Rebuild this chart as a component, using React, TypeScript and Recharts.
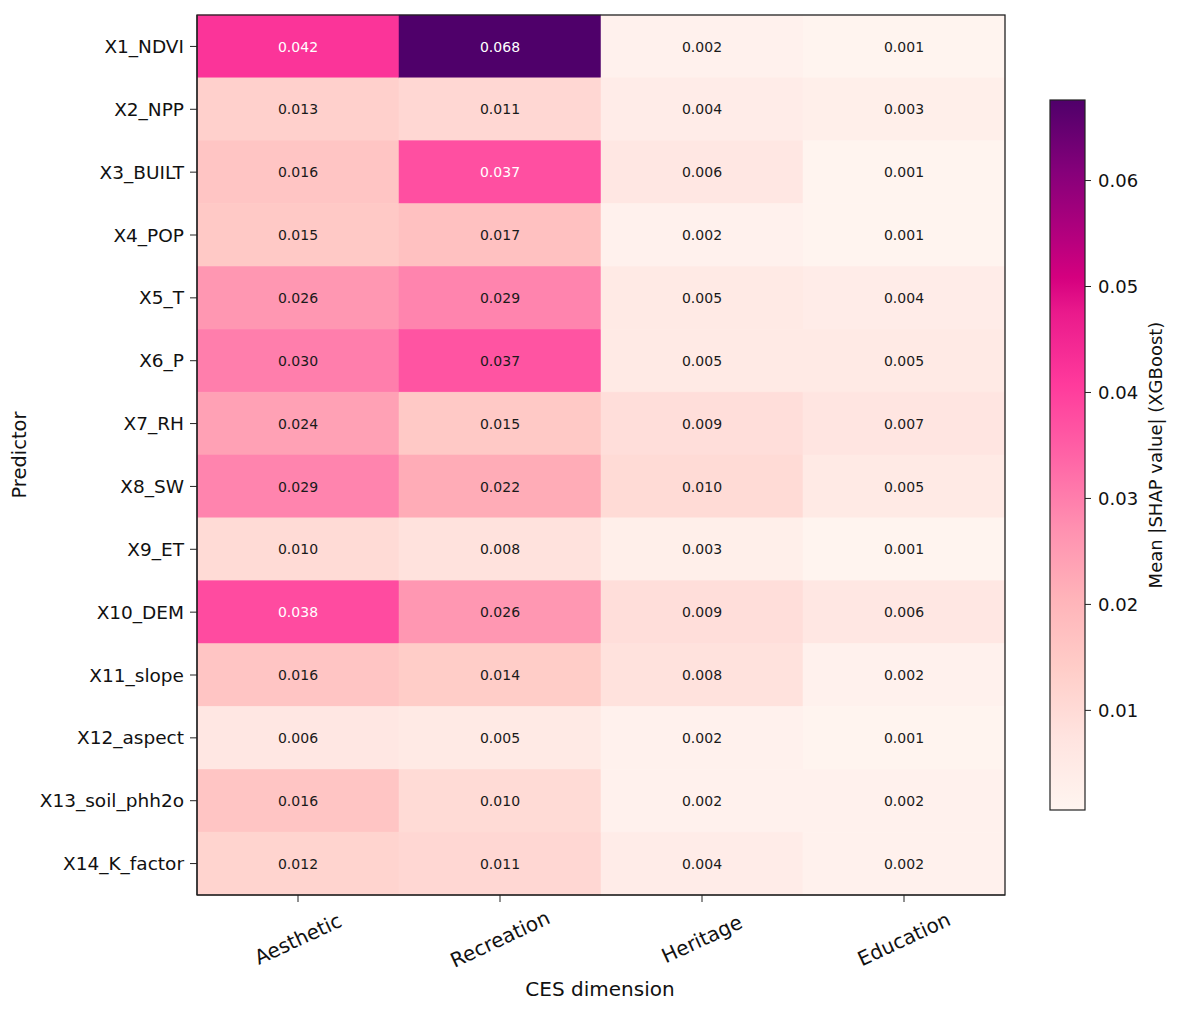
import { BarChart, Bar, XAxis, YAxis } from 'recharts'

const predictors = [
  'X1_NDVI', 'X2_NPP', 'X3_BUILT', 'X4_POP', 'X5_T', 'X6_P', 'X7_RH',
  'X8_SW', 'X9_ET', 'X10_DEM', 'X11_slope', 'X12_aspect', 'X13_soil_phh2o', 'X14_K_factor',
]
const dimensions = ['Aesthetic', 'Recreation', 'Heritage', 'Education']

// mean |SHAP| per predictor, one array per CES dimension
const aesthetic = [0.042, 0.013, 0.016, 0.015, 0.026, 0.030, 0.024, 0.029, 0.010, 0.038, 0.016, 0.006, 0.016, 0.012]
const recreation = [0.068, 0.011, 0.0374, 0.017, 0.029, 0.0366, 0.015, 0.022, 0.008, 0.026, 0.014, 0.005, 0.010, 0.011]
const heritage = [0.002, 0.004, 0.006, 0.002, 0.005, 0.005, 0.009, 0.010, 0.003, 0.009, 0.008, 0.002, 0.002, 0.004]
const education = [0.001, 0.003, 0.001, 0.001, 0.004, 0.005, 0.007, 0.005, 0.001, 0.006, 0.002, 0.001, 0.002, 0.002]

const series = [aesthetic, recreation, heritage, education]
const seriesKeys = ['aesthetic', 'recreation', 'heritage', 'education']
const xTicks = [0.5, 1.5, 2.5, 3.5]
const cbarTicks = [0.01, 0.02, 0.03, 0.04, 0.05, 0.06]

const VMIN = 0.0006
const VMAX = 0.0676
const FONT = '"DejaVu Sans", sans-serif'

// RdPu-like ramp, sampled from the reference colorbar
const stops: [number, string][] = [
  [0, '#fff5f0'],
  [0.1, '#ffe4e0'],
  [0.2, '#ffcdc8'],
  [0.3, '#ffb3b9'],
  [0.4, '#ff8fb0'],
  [0.5, '#ff63a6'],
  [0.6, '#ff3a9c'],
  [0.7, '#ea1a8c'],
  [0.75, '#d5007f'],
  [0.8, '#b8007e'],
  [0.9, '#85007a'],
  [1, '#4f006a'],
]

const hex = (c: string) => [1, 3, 5].map((i) => parseInt(c.slice(i, i + 2), 16))

function colorFor(v: number) {
  const t = Math.max(0, Math.min(1, (v - VMIN) / (VMAX - VMIN)))
  for (let i = 1; i < stops.length; i++) {
    if (t <= stops[i][0]) {
      const [t0, c0] = stops[i - 1]
      const [t1, c1] = stops[i]
      const f = (t - t0) / (t1 - t0)
      const a = hex(c0)
      const b = hex(c1)
      return `rgb(${a.map((x, k) => Math.round(x + (b[k] - x) * f)).join(',')})`
    }
  }
  return stops[stops.length - 1][1]
}

const rows = predictors.map((name) => ({
  name,
  aesthetic: 1,
  recreation: 1,
  heritage: 1,
  education: 1,
}))

const makeCell = (col: number) => (p: any) => {
  const v = series[col][p.index]
  const fill = colorFor(v)
  return (
    <g>
      <rect x={p.x} y={p.y} width={p.width} height={p.height} fill={fill} stroke={fill} strokeWidth={0.5} />
      <text
        x={p.x + p.width / 2}
        y={p.y + p.height / 2}
        textAnchor="middle"
        dominantBaseline="central"
        fontSize={14}
        fontFamily={FONT}
        fill={v > 0.037 ? '#ffffff' : '#1a1a1a'}
      >
        {v.toFixed(3)}
      </text>
    </g>
  )
}

const XTick = (p: any) => {
  const label = dimensions[Math.floor(p.payload.value)]
  const cx = p.x
  const cy = p.y + 35
  return (
    <text
      x={cx}
      y={cy}
      textAnchor="middle"
      dominantBaseline="central"
      fontSize={20}
      fontFamily={FONT}
      fill="#111"
      transform={`rotate(-25 ${cx} ${cy})`}
    >
      {label}
    </text>
  )
}

// plot frame and colorbar box (container coords)
const PLOT = { x: 189, y: 7, w: 808, h: 880 }
const CB = { x: 1042, y: 92, w: 35, h: 710 }
const cbY = (v: number) => CB.y + CB.h - ((v - VMIN) / (VMAX - VMIN)) * CB.h

export default function App() {
  return (
    <div style={{ position: 'relative', width: 1169, height: 1000, fontFamily: FONT }}>
      <BarChart
        width={1030}
        height={1000}
        data={rows}
        layout="vertical"
        barCategoryGap={0}
        margin={{ top: 7, right: 33, left: 0, bottom: 13 }}
      >
        <XAxis
          type="number"
          domain={[0, 4]}
          ticks={xTicks}
          allowDataOverflow
          height={100}
          tick={<XTick />}
          tickSize={7}
          axisLine={{ stroke: '#222', strokeWidth: 1.2 }}
          tickLine={{ stroke: '#222' }}
        />
        <YAxis
          type="category"
          dataKey="name"
          width={189}
          tickSize={7}
          tickMargin={6}
          tick={{ fontSize: 18.5, fill: '#111', fontFamily: FONT }}
          axisLine={{ stroke: '#222', strokeWidth: 1.2 }}
          tickLine={{ stroke: '#222' }}
        />
        {seriesKeys.map((k, i) => (
          <Bar key={k} dataKey={k} stackId="cells" isAnimationActive={false} shape={makeCell(i)} />
        ))}
      </BarChart>

      <svg
        width={1169}
        height={1000}
        style={{ position: 'absolute', left: 0, top: 0, pointerEvents: 'none' }}
        fontFamily={FONT}
      >
        <defs>
          <linearGradient id="cbar" x1="0" y1="1" x2="0" y2="0">
            {stops.map(([t, c]) => (
              <stop key={t} offset={`${t * 100}%`} stopColor={c} />
            ))}
          </linearGradient>
        </defs>
        <rect x={PLOT.x} y={PLOT.y} width={PLOT.w} height={PLOT.h} fill="none" stroke="#222" strokeWidth={1.3} />
        <text x={592} y={988} textAnchor="middle" fontSize={20} fill="#111">
          CES dimension
        </text>
        <text
          x={11}
          y={447}
          textAnchor="middle"
          dominantBaseline="central"
          fontSize={19.5}
          fill="#111"
          transform="rotate(-90 11 447)"
        >
          Predictor
        </text>
        <rect x={CB.x} y={CB.y} width={CB.w} height={CB.h} fill="url(#cbar)" stroke="#222" strokeWidth={1.2} />
        {cbarTicks.map((t) => (
          <g key={t}>
            <line x1={CB.x + CB.w} x2={CB.x + CB.w + 6} y1={cbY(t)} y2={cbY(t)} stroke="#222" />
            <text x={CB.x + CB.w + 13} y={cbY(t)} dominantBaseline="central" fontSize={18} fill="#111">
              {t.toFixed(2)}
            </text>
          </g>
        ))}
        <text
          x={1147}
          y={447}
          textAnchor="middle"
          dominantBaseline="central"
          fontSize={18}
          fill="#111"
          transform="rotate(-90 1147 447)"
        >
          Mean |SHAP value| (XGBoost)
        </text>
      </svg>
    </div>
  )
}
